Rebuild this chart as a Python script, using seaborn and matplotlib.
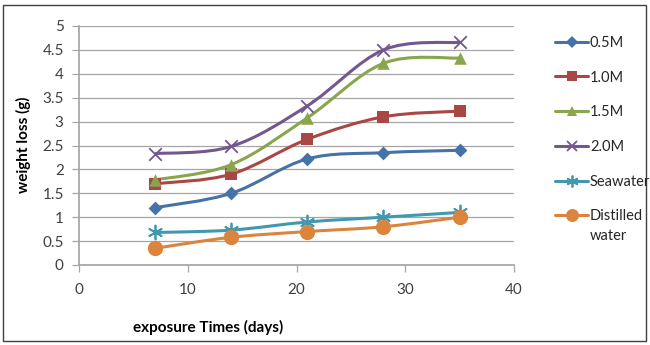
import matplotlib
matplotlib.use("Agg")
import matplotlib.pyplot as plt
import seaborn as sns
import numpy as np
import pandas as pd
from matplotlib.path import Path
from matplotlib.patches import PathPatch, Rectangle
from matplotlib.lines import Line2D

days = [7, 14, 21, 28, 35]
series_names = ["0.5M", "1.0M", "1.5M", "2.0M", "Seawater", "Distilled\nwater"]
v_05 = [1.2, 1.5, 2.22, 2.35, 2.4]
v_10 = [1.7, 1.9, 2.63, 3.1, 3.22]
v_15 = [1.78, 2.1, 3.08, 4.22, 4.33]
v_20 = [2.33, 2.48, 3.33, 4.5, 4.66]
v_sea = [0.68, 0.73, 0.9, 1.0, 1.1]
v_dist = [0.35, 0.58, 0.7, 0.8, 1.0]
x_ticks = [0, 10, 20, 30, 40]
y_ticks = [0, 0.5, 1, 1.5, 2, 2.5, 3, 3.5, 4, 4.5, 5]

values = [v_05, v_10, v_15, v_20, v_sea, v_dist]
colors = ["#4572A7", "#AA4643", "#89A54E", "#71588F", "#4198AF", "#DB843D"]
markers = ["D", "s", "^", "x", (6, 2, 0), "o"]
msizes = [7, 9, 9, 9, 10, 11]

sns.set_theme(style="white")
plt.rcParams["font.family"] = ["Lato", "DejaVu Sans"]

fig = plt.figure(figsize=(6.5, 3.45), dpi=100)
ax = fig.add_axes([79/650, 1-265/345, (514-79)/650, (265-26)/345])

df = pd.DataFrame({"days": days * len(values),
                   "loss": sum(values, []),
                   "series": sum([[n]*len(days) for n in series_names], [])})

def smooth_path(xs, ys):
    pts = np.column_stack([xs, ys]).astype(float)
    n = len(pts)
    verts = [pts[0]]
    codes = [Path.MOVETO]
    for i in range(n-1):
        p0 = pts[max(i-1, 0)]
        p1 = pts[i]
        p2 = pts[i+1]
        p3 = pts[min(i+2, n-1)]
        c1 = p1 + (p2 - p0) / 6.0
        c2 = p2 - (p3 - p1) / 6.0
        verts += [c1, c2, p2]
        codes += [Path.CURVE4]*3
    return Path(verts, codes)

def is_line_marker(mk):
    return mk == "x" or isinstance(mk, tuple)

handles = []
for name, col, mk, ms in zip(series_names, colors, markers, msizes):
    sub = df[df.series == name]
    ax.add_patch(PathPatch(smooth_path(sub.days.values, sub.loss.values),
                           facecolor="none", edgecolor=col, lw=2.2, zorder=2))
    if is_line_marker(mk):
        sns.scatterplot(data=sub, x="days", y="loss", marker=mk, s=ms**2,
                        color=col, edgecolor=col, linewidth=1.3, ax=ax, zorder=3, legend=False)
    else:
        sns.scatterplot(data=sub, x="days", y="loss", marker=mk, s=ms**2,
                        color=col, edgecolor=col, linewidth=0, ax=ax, zorder=3, legend=False)
    handles.append(Line2D([0], [0], color=col, lw=2.2, marker=mk,
                          markersize=ms*0.85, markeredgewidth=1.3 if is_line_marker(mk) else 0,
                          markerfacecolor=col, markeredgecolor=col))

ax.set_xlim(0, 40)
ax.set_ylim(0, 5)
ax.set_xticks(x_ticks)
ax.set_yticks(y_ticks)
ax.set_yticklabels([f"{t:g}" for t in y_ticks])
ax.yaxis.grid(True, color="#A6A6A6", lw=0.9)
ax.xaxis.grid(False)
for s in ["top", "right"]:
    ax.spines[s].set_visible(False)
ax.spines["left"].set_color("#A6A6A6")
ax.spines["bottom"].set_color("#A6A6A6")
ax.tick_params(axis="both", labelsize=11, colors="#404040", length=5, width=0.9)
ax.tick_params(axis="x", direction="out", bottom=True, pad=8, color="#A6A6A6")
ax.tick_params(axis="y", direction="out", left=True, pad=6, color="#A6A6A6")
ax.set_xlabel("")
ax.set_ylabel("")

fig.text(208/650, 1-327/345, "exposure Times (days)", ha="center", va="center",
         fontsize=11, fontweight="bold", color="black")
fig.text(23/650, 1-145/345, "weight loss (g)", ha="center", va="center",
         rotation=90, fontsize=11, fontweight="bold", color="black")

first_lines = [n.split("\n")[0] for n in series_names]
leg = fig.legend(handles, first_lines, loc="upper left",
                 bbox_to_anchor=(549/650, 1-30/345), frameon=False,
                 fontsize=10.5, handlelength=2.3, handletextpad=0.1,
                 labelspacing=1.42, borderaxespad=0)
for t in leg.get_texts():
    t.set_color("#262626")

fig.canvas.draw()
last = leg.get_texts()[-1]
bb = last.get_window_extent(fig.canvas.get_renderer())
extra = series_names[-1].split("\n")[1:]
for i, line in enumerate(extra):
    fig.text(bb.x0/650, (bb.y0 - 20*(i+1) + bb.height/2)/345, line, ha="left", va="center",
             fontsize=10.5, color="#262626")

fig.patches.append(Rectangle((3/650, 4/345), 643/650, 336/345, transform=fig.transFigure,
                             fill=False, edgecolor="#404040", lw=1.0))

fig.savefig("out.png", dpi=100)
